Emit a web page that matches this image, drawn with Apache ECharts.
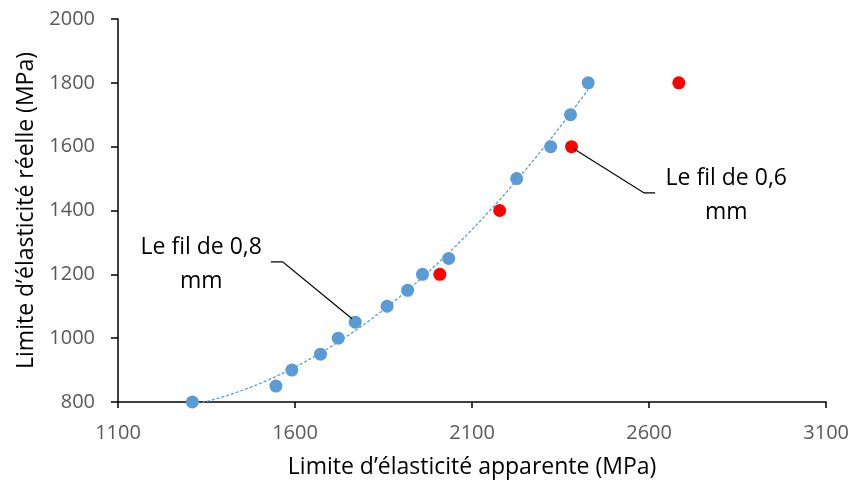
<!DOCTYPE html>
<html><head><meta charset="utf-8">
<script src="https://cdn.jsdelivr.net/npm/echarts@6/dist/echarts.min.js"></script>
<style>html,body{margin:0;padding:0;background:#fff}#c{width:852px;height:484px}</style>
</head><body><div id="c"></div>
<script>
// Blue series: fil 0,8 mm
const blueX = [1310, 1546, 1591, 1672, 1722, 1770, 1860, 1918, 1960, 2034, 2226, 2322, 2378, 2428];
const blueY = [800, 850, 900, 950, 1000, 1050, 1100, 1150, 1200, 1250, 1500, 1600, 1700, 1800];
// Red series: fil 0,6 mm
const redX = [2009, 2178, 2381, 2684];
const redY = [1200, 1400, 1600, 1800];
const xTicks = [1100, 1600, 2100, 2600, 3100];
const yTicks = [800, 1000, 1200, 1400, 1600, 1800, 2000];
const xTitle = "Limite d’élasticité apparente (MPa)";
const yTitle = "Limite d’élasticité réelle (MPa)";
const label08 = "Le fil de 0,8\nmm";
const label06 = "Le fil de 0,6\nmm";

// Polynomial (order 2) least-squares trendline of the blue series
function polyFit2(xs, ys) {
  let n = xs.length, s = [0,0,0,0,0], t = [0,0,0];
  for (let i = 0; i < n; i++) {
    let x = xs[i], y = ys[i];
    for (let k = 0; k < 5; k++) s[k] += Math.pow(x, k);
    for (let k = 0; k < 3; k++) t[k] += y * Math.pow(x, k);
  }
  const A = [[s[0], s[1], s[2], t[0]], [s[1], s[2], s[3], t[1]], [s[2], s[3], s[4], t[2]]];
  for (let i = 0; i < 3; i++) {
    for (let j = i + 1; j < 3; j++) {
      const f = A[j][i] / A[i][i];
      for (let k = i; k < 4; k++) A[j][k] -= f * A[i][k];
    }
  }
  const c = [0, 0, 0];
  for (let i = 2; i >= 0; i--) {
    let v = A[i][3];
    for (let k = i + 1; k < 3; k++) v -= A[i][k] * c[k];
    c[i] = v / A[i][i];
  }
  return c;
}
const coef = polyFit2(blueX, blueY);
const xMin = Math.min(...blueX), xMax = Math.max(...blueX);
const trend = [];
for (let i = 0; i <= 80; i++) {
  const x = xMin + (xMax - xMin) * i / 80;
  trend.push([x, coef[0] + coef[1] * x + coef[2] * x * x]);
}

const FONT = "Open Sans";
const chart = echarts.init(document.getElementById('c'), null, {renderer: 'canvas'});
chart.setOption({
  animation: false,
  backgroundColor: '#fff',
  textStyle: {fontFamily: FONT},
  grid: {left: 118, right: 24, top: 19, bottom: 82, containLabel: false},
  xAxis: {
    type: 'value', min: xTicks[0], max: xTicks[xTicks.length - 1], interval: 500,
    name: xTitle, nameLocation: 'middle', nameGap: 54,
    nameTextStyle: {fontSize: 23, color: '#000', fontFamily: FONT},
    axisLine: {show: true, lineStyle: {color: '#000', width: 1.5}},
    axisTick: {show: true, length: 6, inside: false, lineStyle: {color: '#000', width: 1.5}},
    axisLabel: {fontSize: 20, color: '#595959', margin: 21, fontFamily: FONT, formatter: v => String(v)},
    splitLine: {show: false}
  },
  yAxis: {
    type: 'value', min: yTicks[0], max: yTicks[yTicks.length - 1], interval: 200,
    name: yTitle, nameLocation: 'middle', nameGap: 80, nameRotate: 90,
    nameTextStyle: {fontSize: 23, color: '#000', fontFamily: FONT},
    axisLine: {show: true, lineStyle: {color: '#000', width: 1.5}},
    axisTick: {show: true, length: 7, inside: false, lineStyle: {color: '#000', width: 1.5}},
    axisLabel: {fontSize: 20, color: '#595959', margin: 23, fontFamily: FONT, formatter: v => String(v)},
    splitLine: {show: false}
  },
  series: [
    {
      type: 'line', data: trend, showSymbol: false, symbol: 'none', smooth: false,
      lineStyle: {color: '#5B9BD5', width: 1.3, type: [3, 2]}, z: 1, silent: true
    },
    {
      type: 'scatter', data: blueX.map((x, i) => [x, blueY[i]]), symbolSize: 13,
      itemStyle: {color: '#5B9BD5', opacity: 1}, z: 2
    },
    {
      type: 'scatter', data: redX.map((x, i) => [x, redY[i]]), symbolSize: 13,
      itemStyle: {color: '#FF0000', opacity: 1}, z: 3
    }
  ]
});

// Annotations, anchored in data coordinates
function P(x, y) { return chart.convertToPixel({gridIndex: 0}, [x, y]); }
function leader(points) {
  return {type: 'polyline', shape: {points: points.map(p => P(p[0], p[1]))},
    style: {stroke: '#000', lineWidth: 1.2, fill: null}, z: 10};
}
function label(text, x, y) {
  const p = P(x, y);
  return {type: 'text', x: p[0], y: p[1], z: 10,
    style: {text: text, fill: '#000', font: '23px "' + FONT + '"', align: 'center', verticalAlign: 'middle', lineHeight: 34}};
}
chart.setOption({
  graphic: [
    leader([[1532, 1239], [1565, 1239], [1761, 1061]]),
    label(label08, 1335, 1232),
    leader([[2386, 1594], [2586, 1455], [2617, 1455]]),
    label(label06, 2818, 1448)
  ]
});
</script>
</body></html>
